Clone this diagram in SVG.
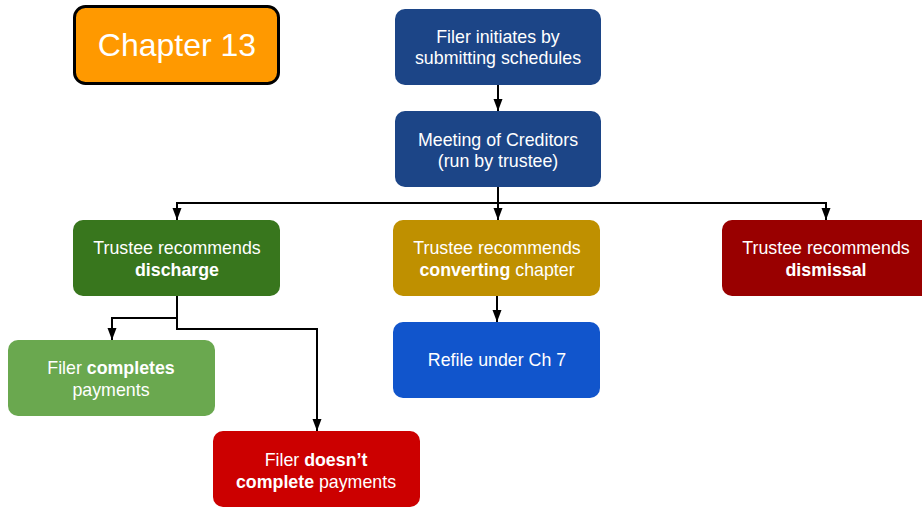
<svg xmlns="http://www.w3.org/2000/svg" width="922" height="507" viewBox="0 0 922 507">
<defs>
<marker id="ah" markerWidth="12" markerHeight="10" refX="12" refY="5" orient="auto" markerUnits="userSpaceOnUse" viewBox="0 0 12 10">
<path d="M0,0.5 L12,5 L0,9.5 Z" fill="#000"/>
</marker>
</defs>
<style>
.box{stroke:none}
.t{font-family:"Liberation Sans",Arial,sans-serif;font-size:17.8px;fill:#fff;text-anchor:middle}
.b{font-weight:bold}
.c{fill:none;stroke:#000;stroke-width:2}
</style>
<rect width="922" height="507" fill="#fff"/>
<g id="chapter13">
<rect x="74.5" y="6.5" width="204" height="77" rx="11" fill="#ff9900" stroke="#000" stroke-width="3"/>
<text class="t" x="177" y="56" style="font-size:32px">Chapter 13</text>
</g>
<g id="initiate">
<rect class="box" x="395" y="9" width="206" height="76" rx="10" fill="#1c4587"/>
<text class="t" x="498" y="43">Filer initiates by</text>
<text class="t" x="498" y="64">submitting schedules</text>
</g>
<g id="meeting">
<rect class="box" x="395" y="111" width="206" height="76" rx="10" fill="#1c4587"/>
<text class="t" x="498" y="146">Meeting of Creditors</text>
<text class="t" x="498" y="167">(run by trustee)</text>
</g>
<g id="discharge">
<rect class="box" x="73" y="220" width="207" height="76" rx="10" fill="#38761d"/>
<text class="t" x="177" y="254">Trustee recommends</text>
<text class="t b" x="177" y="276">discharge</text>
</g>
<g id="converting">
<rect class="box" x="393" y="220" width="207" height="76" rx="10" fill="#bf9000"/>
<text class="t" x="497" y="254">Trustee recommends</text>
<text class="t" x="497" y="276"><tspan class="b">converting</tspan> chapter</text>
</g>
<g id="dismissal">
<rect class="box" x="722" y="220" width="210" height="76" rx="10" fill="#990000"/>
<text class="t" x="826" y="254">Trustee recommends</text>
<text class="t b" x="826" y="276">dismissal</text>
</g>
<g id="completes">
<rect class="box" x="8" y="340" width="207" height="76" rx="10" fill="#6aa84f"/>
<text class="t" x="111" y="374">Filer <tspan class="b">completes</tspan></text>
<text class="t" x="111" y="396">payments</text>
</g>
<g id="refile">
<rect class="box" x="393" y="322" width="207" height="76" rx="10" fill="#1155cc"/>
<text class="t" x="497" y="366">Refile under Ch 7</text>
</g>
<g id="notcomplete">
<rect class="box" x="213" y="431" width="207" height="76" rx="10" fill="#cc0000"/>
<text class="t" x="316" y="466">Filer <tspan class="b">doesn’t</tspan></text>
<text class="t" x="316" y="488"><tspan class="b">complete</tspan> payments</text>
</g>
<g id="connectors">
<path class="c" d="M498,85 V111" marker-end="url(#ah)"/>
<path class="c" d="M498,187 V220" marker-end="url(#ah)"/>
<path class="c" d="M498,203 H177 V220" marker-end="url(#ah)"/>
<path class="c" d="M498,203 H826 V220" marker-end="url(#ah)"/>
<path class="c" d="M177,296 V318 H112 V340" marker-end="url(#ah)"/>
<path class="c" d="M177,318 V329 H317 V431" marker-end="url(#ah)"/>
<path class="c" d="M497,296 V322" marker-end="url(#ah)"/>
</g>
</svg>
